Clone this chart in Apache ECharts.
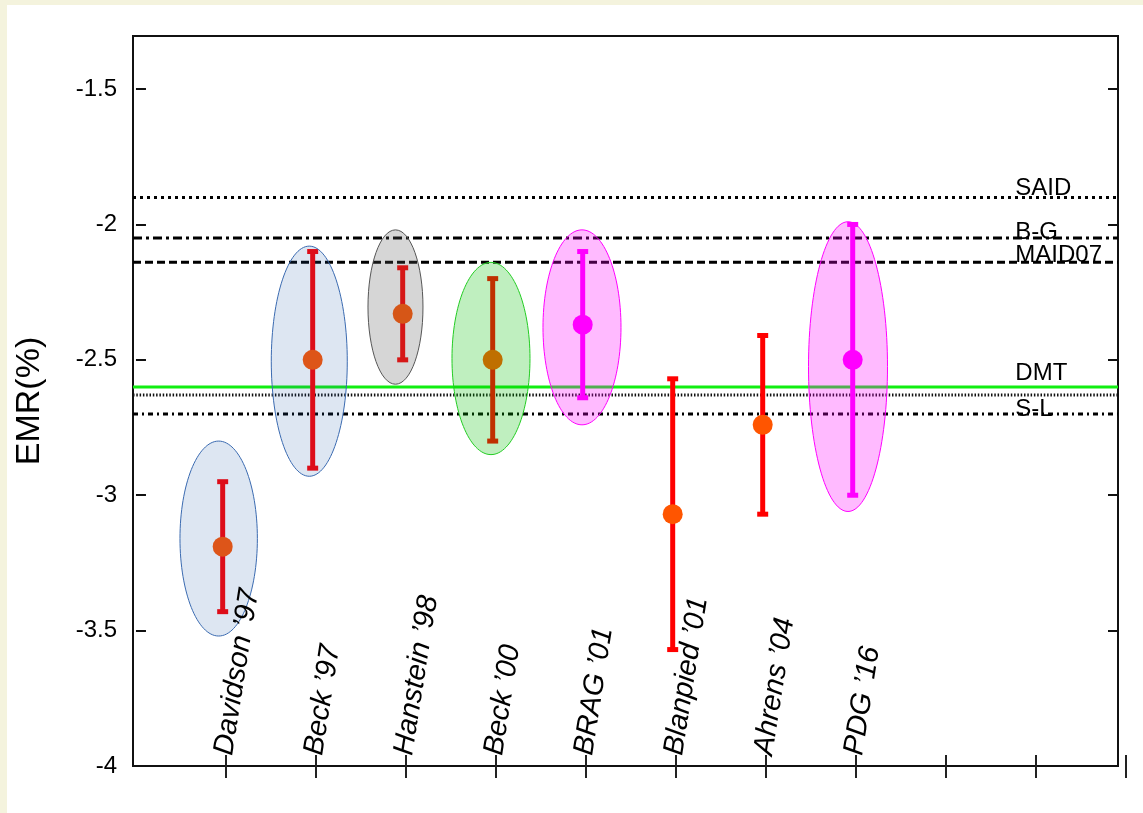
<!DOCTYPE html>
<html>
<head>
<meta charset="utf-8">
<title>EMR</title>
<script src="https://cdn.jsdelivr.net/npm/echarts@6/dist/echarts.min.js"></script>
<style>
  html, body { margin: 0; padding: 0; background: #f4f3dd; }
  #panel { position: absolute; left: 7px; top: 5px; right: 0; bottom: 0; background: #ffffff; }
  #chart { position: absolute; left: 0; top: 0; width: 1143px; height: 813px; }
</style>
</head>
<body>
<div id="panel"></div>
<div id="chart"></div>
<script>
// E2/M1 ratio measurements, EMR (%)
const experiments = ["Davidson '97", "Beck '97", "Hanstein '98", "Beck '00", "BRAG '01", "Blanpied '01", "Ahrens '04", "PDG '16"];
const emrValues   = [-3.19, -2.50, -2.33, -2.50, -2.37, -3.07, -2.74, -2.50];
const emrErrors   = [0.24, 0.40, 0.17, 0.30, 0.27, 0.50, 0.33, 0.50];

// Shaded uncertainty regions (index into experiments, upper and lower EMR)
const bandExperiments = [0, 1, 2, 3, 4, 7];
const bandUpper       = [-2.80, -2.08, -2.02, -2.14, -2.02, -1.99];
const bandLower       = [-3.52, -2.93, -2.59, -2.85, -2.74, -3.06];

// Model predictions drawn as horizontal lines
const modelNames  = ['SAID', 'B-G', 'MAID07', 'DMT', '', 'S-L'];
const modelValues = [-1.90, -2.05, -2.14, -2.60, -2.63, -2.70];

// Axis ticks
const xTickPositions = [1, 2, 3, 4, 5, 6, 7, 8, 9, 10, 11];
const yTickLabels    = ['-4', '-3.5', '-3', '-2.5', '-2', '-1.5'];

const FONT = "'Liberation Sans', Arial, Helvetica, sans-serif";
const Y_MIN = -4, Y_MAX = -1.304;
const X_MIN = -0.033, X_MAX = 10.911;

// Styling (not data)
const MAGENTA = '#ff00ff';
const RED = '#ff0000';
const ORANGE = '#ff5500';
const magentaSet = new Set(["BRAG '01", "PDG '16"]);
const POINT_DX = -3.3;   // markers sit slightly left of their tick
const bandStyles = [
  { dx: -7.3,  rx: 38.7, fill: 'rgba(30,90,170,0.15)',  stroke: '#3a6ab0' },
  { dx: -6.7,  rx: 38.0, fill: 'rgba(30,90,170,0.15)',  stroke: '#3a6ab0' },
  { dx: -10.5, rx: 27.5, fill: 'rgba(90,90,90,0.25)',   stroke: '#555555' },
  { dx: -5.0,  rx: 39.0, fill: 'rgba(0,190,0,0.25)',    stroke: '#22cc22' },
  { dx: -4.0,  rx: 39.0, fill: 'rgba(255,0,255,0.27)',  stroke: '#ff00ff' },
  { dx: -8.0,  rx: 39.5, fill: 'rgba(255,0,255,0.27)',  stroke: '#ff00ff' }
];
const modelStyles = [
  { color: '#000', dash: [3, 4],          dy: -9 },
  { color: '#000', dash: [9, 4, 3, 4],    dy: -6 },
  { color: '#000', dash: [8, 4],          dy: -7 },
  { color: '#11ee11', dash: null,         dy: -14 },
  { color: '#111', dash: [1.5, 1.8],      dy: 0 },
  { color: '#000', dash: [5, 4, 2, 4],    dy: -5 }
];
const MODEL_LABEL_X = 9.77;

const chart = echarts.init(document.getElementById('chart'), null, { renderer: 'canvas' });

const option = {
  animation: false,
  backgroundColor: 'transparent',
  grid: {
    left: 133, right: 25, top: 36, bottom: 47,
    show: true, borderColor: '#111', borderWidth: 2,
    backgroundColor: 'transparent',
    containLabel: false,
    outerBoundsMode: 'none'
  },
  xAxis: {
    type: 'value', min: X_MIN, max: X_MAX,
    axisLine: { show: false }, axisTick: { show: false },
    axisLabel: { show: false }, splitLine: { show: false }
  },
  yAxis: [
    {
      type: 'value', min: Y_MIN, max: Y_MAX, interval: 0.5,
      name: 'EMR(%)', nameLocation: 'middle', nameRotate: 90, nameGap: 86,
      nameTextStyle: { fontFamily: FONT, fontSize: 34, color: '#000' },
      axisLine: { show: false },
      axisTick: { show: true, inside: true, length: 10, lineStyle: { color: '#111', width: 2 } },
      axisLabel: {
        fontFamily: FONT, fontSize: 24, color: '#000', margin: 16,
        showMaxLabel: false,
        formatter: function (v) {
          const k = Math.round((v - Y_MIN) / 0.5);
          return Math.abs(Y_MIN + k * 0.5 - v) < 1e-6 ? (yTickLabels[k] || '') : '';
        }
      },
      splitLine: { show: false }
    },
    {
      type: 'value', min: Y_MIN, max: Y_MAX, interval: 0.5, position: 'right',
      axisLine: { show: false },
      axisTick: { show: true, inside: true, length: 10, lineStyle: { color: '#111', width: 2 } },
      axisLabel: { show: false },
      splitLine: { show: false }
    }
  ],
  series: [
    // model prediction lines with their names
    {
      type: 'custom', z: 1, clip: false,
      data: modelValues.map((v, j) => [MODEL_LABEL_X, v, j]),
      renderItem: function (params, api) {
        const j = api.value(2);
        const v = api.value(1);
        const p0 = api.coord([X_MIN, v]);
        const p1 = api.coord([X_MAX, v]);
        const st = modelStyles[j];
        const children = [{
          type: 'line',
          shape: { x1: p0[0], y1: p0[1], x2: p1[0], y2: p1[1] },
          style: { stroke: st.color, lineWidth: 3, lineDash: st.dash, lineCap: 'butt' }
        }];
        if (modelNames[j]) {
          const lp = api.coord([api.value(0), v]);
          children.push({
            type: 'text', x: lp[0], y: lp[1] + st.dy,
            style: { text: modelNames[j], fontFamily: FONT, fontSize: 24, fill: '#000', align: 'left', verticalAlign: 'middle' }
          });
        }
        return { type: 'group', children: children };
      }
    },
    // error bars and markers
    {
      type: 'custom', z: 2, clip: false,
      data: experiments.map((n, i) => [i + 1, emrValues[i], emrErrors[i], i]),
      renderItem: function (params, api) {
        const i = api.value(3);
        const x = api.value(0), v = api.value(1), e = api.value(2);
        const c = api.coord([x, v]);
        const t = api.coord([x, v + e]);
        const b = api.coord([x, v - e]);
        const px = c[0] + POINT_DX;
        const mag = magentaSet.has(experiments[i]);
        const barColor = mag ? MAGENTA : RED;
        const dotColor = mag ? MAGENTA : ORANGE;
        return {
          type: 'group',
          children: [
            { type: 'line', shape: { x1: px, y1: t[1], x2: px, y2: b[1] }, style: { stroke: barColor, lineWidth: 5 } },
            { type: 'rect', shape: { x: px - 5.5, y: t[1] - 2.5, width: 11, height: 5 }, style: { fill: barColor } },
            { type: 'rect', shape: { x: px - 5.5, y: b[1] - 2.5, width: 11, height: 5 }, style: { fill: barColor } },
            { type: 'circle', shape: { cx: px, cy: c[1], r: 10 }, style: { fill: dotColor } }
          ]
        };
      }
    },
    // translucent uncertainty ellipses
    {
      type: 'custom', z: 3, clip: false,
      data: bandExperiments.map((k, j) => [k + 1, bandUpper[j], bandLower[j], j]),
      renderItem: function (params, api) {
        const j = api.value(3);
        const x = api.value(0);
        const u = api.coord([x, api.value(1)]);
        const l = api.coord([x, api.value(2)]);
        const st = bandStyles[j];
        return {
          type: 'ellipse',
          shape: { cx: u[0] + st.dx, cy: (u[1] + l[1]) / 2, rx: st.rx, ry: (l[1] - u[1]) / 2 },
          style: { fill: st.fill, stroke: st.stroke, lineWidth: 1 }
        };
      }
    },
    // rotated experiment names above the bottom axis
    {
      type: 'custom', z: 4, clip: false,
      data: experiments.map((n, i) => [i + 1, Y_MIN, i]),
      renderItem: function (params, api) {
        const i = api.value(2);
        const p = api.coord([api.value(0), api.value(1)]);
        return {
          type: 'text', x: p[0] - 2, y: p[1] - 11, rotation: 81 * Math.PI / 180,
          style: {
            text: experiments[i].replace("'", '\u2019'),
            fontFamily: FONT, fontSize: 29, fontStyle: 'italic', fill: '#000',
            align: 'left', verticalAlign: 'middle'
          }
        };
      }
    },
    // bottom axis ticks (crossing the axis)
    {
      type: 'custom', z: 4, clip: false,
      data: xTickPositions.map(t => [t, Y_MIN]),
      renderItem: function (params, api) {
        const p = api.coord([api.value(0), api.value(1)]);
        return {
          type: 'line',
          shape: { x1: p[0], y1: p[1] - 11, x2: p[0], y2: p[1] + 12 },
          style: { stroke: '#222', lineWidth: 2 }
        };
      }
    }
  ]
};

chart.setOption(option);
</script>
</body>
</html>
